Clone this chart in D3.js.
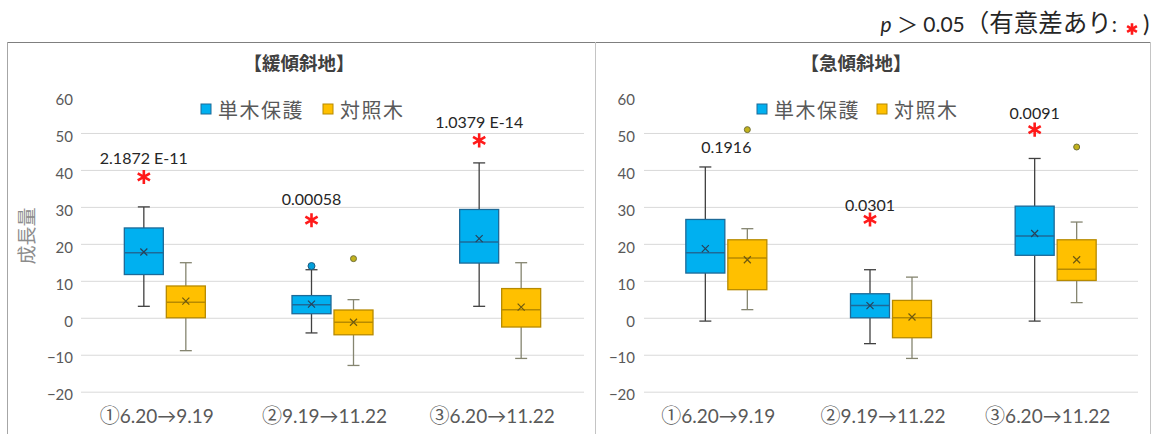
<!DOCTYPE html>
<html>
<head>
<meta charset="utf-8">
<script src="https://cdn.jsdelivr.net/npm/d3@7"></script>
<style>
  html, body { margin: 0; padding: 0; background: #fff; }
  svg { display: block; }
  text { font-family: Lato, "Noto Sans CJK JP", sans-serif; }
</style>
</head>
<body>
<svg id="chart" width="1162" height="434"></svg>
<script>
// ---- data ----
const categories = ["①6.20→9.19", "②9.19→11.22", "③6.20→11.22"];
const seriesNames = ["単木保護", "対照木"];
const yTicks = [-20, -10, 0, 10, 20, 30, 40, 50, 60];
const gridValues = [-20, -10, 0, 10, 20, 30, 40, 50];

// box statistics per category: [lower whisker, Q1, median, Q3, upper whisker, mean]
const gentleProtected = [[3.1, 11.7, 17.6, 24.3, 30.0, 17.8], [-4.1, 1.1, 3.5, 6.0, 13.0, 3.7], [3.1, 14.8, 20.5, 29.3, 41.9, 21.4]];
const gentleControl   = [[-8.9, 0.0, 4.2, 8.6, 14.9, 4.5], [-12.9, -4.6, -1.2, 2.1, 4.9, -1.2], [-11.0, -2.5, 2.2, 7.9, 14.9, 2.9]];
const steepProtected  = [[-0.9, 12.1, 17.6, 26.6, 40.8, 18.7], [-7.0, 0.0, 3.3, 6.5, 13.0, 3.3], [-0.9, 16.9, 22.1, 30.2, 43.1, 22.8]];
const steepControl    = [[2.2, 7.6, 16.2, 21.1, 24.1, 15.7], [-11.0, -5.4, 0.0, 4.7, 11.0, 0.2], [4.1, 10.1, 13.1, 21.1, 25.9, 15.7]];

// outliers: [category index, series index, value]
const gentleOutliers = [[1, 0, 14.0], [1, 1, 16.0]];
const steepOutliers  = [[0, 1, 50.9], [2, 1, 46.2]];

// p-values of the comparison in each period
const gentlePValues = ["2.1872 E-11", "0.00058", "1.0379 E-14"];
const steepPValues  = ["0.1916", "0.0301", "0.0091"];
const gentleSignificant = [true, true, true];
const steepSignificant  = [false, true, true];
// value levels for the p-value text and the star
const gentleLabelLevel = [43.2, 32.1, 53.0];
const gentleStarLevel  = [38.1, 26.4, 48.0];
const steepLabelLevel  = [46.1, 30.4, 55.4];
const steepStarLevel   = [null, 26.6, 50.9];

// ---- drawing ----
const svg = d3.select("#chart");

const fills   = ["#00b0f0", "#ffc000"];
const borders = ["#1d6a98", "#b78a00"];
const whiskerColors = ["#404040", "#858570"];
const meanColors = ["#27425a", "#6f5a10"];
const outlierFill = ["#00a0dc", "#c2b21c"];
const outlierStroke = ["#1d5a80", "#6f6f3a"];
const starPath = d3.symbol(d3.symbolAsterisk, 140)();

const y = d3.scaleLinear().domain([-20, 60]).range([391.7, 96]);

// frame
svg.append("line").attr("x1", 7).attr("x2", 1151).attr("y1", 42.5).attr("y2", 42.5)
  .attr("stroke", "#7f7f7f").attr("stroke-width", 1.2);
svg.append("line").attr("x1", 7.5).attr("x2", 7.5).attr("y1", 42).attr("y2", 434)
  .attr("stroke", "#a6a6a6");
svg.append("line").attr("x1", 595.5).attr("x2", 595.5).attr("y1", 42).attr("y2", 434)
  .attr("stroke", "#c4c4c4");
svg.append("line").attr("x1", 1150.5).attr("x2", 1150.5).attr("y1", 42).attr("y2", 434)
  .attr("stroke", "#c4c4c4");

// significance note: "p > 0.05（有意差あり: *）"
const note = svg.append("text").attr("x", 1117).attr("y", 32).attr("text-anchor", "end")
  .attr("font-size", 21).attr("fill", "#262626");
note.append("tspan").attr("font-style", "italic").text("p");
note.append("tspan").text(" ＞ 0.05");
note.append("tspan").attr("font-size", 24.5).attr("font-family", "'Noto Sans CJK JP'").text("（有意差あり");
note.append("tspan").text(":");
svg.append("path").attr("d", d3.symbol(d3.symbolAsterisk, 90)())
  .attr("transform", "translate(1132,29)")
  .attr("stroke", "#ff1a1a").attr("stroke-width", 2.6).attr("fill", "none");
svg.append("text").attr("x", 1143).attr("y", 32).attr("font-size", 24)
  .attr("font-family", "'Noto Sans CJK JP'").attr("fill", "#262626").text(")");

const panels = [
  { title: "【緩傾斜地】", x0: 81, x1: 584, tickX: 73, titleX: 299, legendX: [201, 323],
    stats: [gentleProtected, gentleControl], outliers: gentleOutliers,
    pValues: gentlePValues, significant: gentleSignificant,
    labelLevel: gentleLabelLevel, starLevel: gentleStarLevel },
  { title: "【急傾斜地】", x0: 644, x1: 1138, tickX: 635, titleX: 856, legendX: [757, 877],
    stats: [steepProtected, steepControl], outliers: steepOutliers,
    pValues: steepPValues, significant: steepSignificant,
    labelLevel: steepLabelLevel, starLevel: steepStarLevel }
];

panels.forEach(p => {
  const g = svg.append("g");
  const x = d3.scaleBand().domain(categories).range([p.x0, p.x1]);
  const half = x.bandwidth() / 2;
  const inner = d3.scaleBand().domain(seriesNames).range([half - 42, half + 42]);
  const boxW = inner.bandwidth() - 3;
  const cx = (ci, si) => x(categories[ci]) + inner(seriesNames[si]) + inner.bandwidth() / 2;

  // gridlines
  const grid = g.append("g").attr("transform", `translate(${p.x0},0)`)
    .call(d3.axisLeft(y).tickValues(gridValues).tickSize(-(p.x1 - p.x0)).tickFormat(""));
  grid.select(".domain").remove();
  grid.selectAll(".tick line").attr("stroke", "#d9d9d9").attr("stroke-width", 1);

  // y tick labels
  const yAxis = g.append("g").attr("transform", `translate(${p.tickX},0)`)
    .call(d3.axisLeft(y).tickValues(yTicks).tickSize(0).tickPadding(0));
  yAxis.select(".domain").remove();
  yAxis.selectAll(".tick text").attr("font-size", 15).attr("fill", "#595959")
    .attr("font-family", "Lato, sans-serif").attr("dy", "0.55em");

  // x labels: circled number set in the CJK face, the period in Lato
  const xAxis = g.append("g").attr("transform", `translate(0,${y(-20)})`)
    .call(d3.axisBottom(x).tickSize(0).tickPadding(0));
  xAxis.select(".domain").remove();
  xAxis.selectAll(".tick text").each(function(d) {
    const t = d3.select(this).text("").attr("font-size", 19).attr("fill", "#595959")
      .attr("dy", "0").attr("y", 31).attr("dx", -8);
    t.append("tspan").attr("font-family", "'Noto Sans CJK JP'").attr("font-size", 20).text(d.slice(0, 1));
    t.append("tspan").text(d.slice(1));
  });

  // title
  g.append("text").attr("x", p.titleX).attr("y", 70).attr("text-anchor", "middle")
    .attr("font-size", 18.5).attr("font-weight", "bold").attr("fill", "#404040")
    .attr("font-family", "'Noto Sans CJK JP'").text(p.title);

  // legend
  seriesNames.forEach((name, si) => {
    const lx = p.legendX[si];
    g.append("rect").attr("x", lx).attr("y", 104).attr("width", 10).attr("height", 10)
      .attr("fill", fills[si]).attr("stroke", borders[si]).attr("stroke-width", 1);
    g.append("text").attr("x", lx + 17).attr("y", 117.5).attr("font-size", 20)
      .attr("letter-spacing", 1.5).attr("fill", "#595959")
      .attr("font-family", "'Noto Sans CJK JP'").text(name);
  });

  // boxes
  p.stats.forEach((rows, si) => {
    rows.forEach((s, ci) => {
      const [lo, q1, med, q3, hi, mean] = s;
      const c = cx(ci, si);
      const bg = g.append("g");
      bg.append("line").attr("x1", c).attr("x2", c).attr("y1", y(hi)).attr("y2", y(q3))
        .attr("stroke", whiskerColors[si]).attr("stroke-width", 1.3);
      bg.append("line").attr("x1", c).attr("x2", c).attr("y1", y(q1)).attr("y2", y(lo))
        .attr("stroke", whiskerColors[si]).attr("stroke-width", 1.3);
      [hi, lo].forEach(v => {
        bg.append("line").attr("x1", c - 6).attr("x2", c + 6).attr("y1", y(v)).attr("y2", y(v))
          .attr("stroke", whiskerColors[si]).attr("stroke-width", 1.3);
      });
      bg.append("rect").attr("x", c - boxW / 2).attr("y", y(q3))
        .attr("width", boxW).attr("height", y(q1) - y(q3))
        .attr("fill", fills[si]).attr("stroke", borders[si]).attr("stroke-width", 1.3);
      bg.append("line").attr("x1", c - boxW / 2).attr("x2", c + boxW / 2)
        .attr("y1", y(med)).attr("y2", y(med))
        .attr("stroke", borders[si]).attr("stroke-width", 1.5);
      const my = y(mean), m = 3.5;
      bg.append("path").attr("d", `M${c - m},${my - m}L${c + m},${my + m}M${c - m},${my + m}L${c + m},${my - m}`)
        .attr("stroke", meanColors[si]).attr("stroke-width", 1.2).attr("fill", "none");
    });
  });

  // outliers
  p.outliers.forEach(([ci, si, v]) => {
    g.append("circle").attr("cx", cx(ci, si)).attr("cy", y(v)).attr("r", si === 0 ? 3.5 : 3)
      .attr("fill", outlierFill[si]).attr("stroke", outlierStroke[si]).attr("stroke-width", 1);
  });

  // p-values and significance stars
  p.pValues.forEach((txt, ci) => {
    const lx = p.significant[ci] ? cx(ci, 0) : x(categories[ci]) + half;
    g.append("text").attr("x", lx).attr("y", y(p.labelLevel[ci])).attr("dy", "0.36em")
      .attr("text-anchor", "middle").attr("font-size", 16).attr("fill", "#262626")
      .attr("font-family", "Lato, sans-serif").text(txt);
    if (p.significant[ci]) {
      g.append("path").attr("d", starPath)
        .attr("transform", `translate(${cx(ci, 0)},${y(p.starLevel[ci])})`)
        .attr("stroke", "#ff1a1a").attr("stroke-width", 2.6).attr("fill", "none");
    }
  });
});

// y-axis title
svg.append("text").attr("transform", "translate(27,236) rotate(-90)")
  .attr("text-anchor", "middle").attr("dy", "0.35em").attr("font-size", 19)
  .attr("fill", "#8c8c8c").attr("font-family", "'Noto Sans CJK JP'").text("成長量");
</script>
</body>
</html>
